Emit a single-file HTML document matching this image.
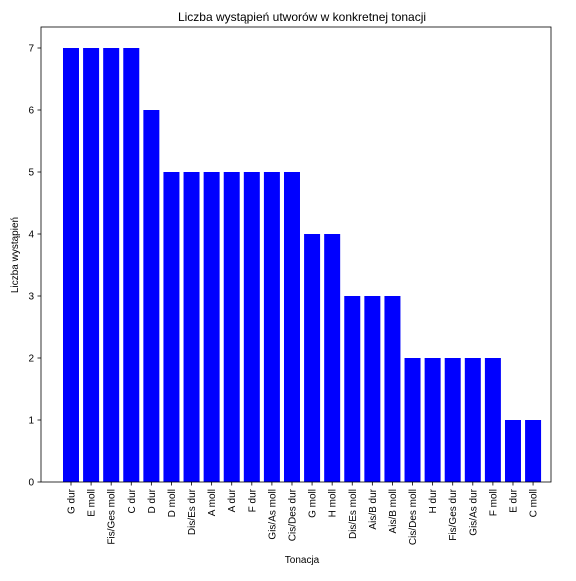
<!DOCTYPE html>
<html><head><meta charset="utf-8"><style>
body{margin:0;background:#fff;}
svg text{font-family:"Liberation Sans","DejaVu Sans",sans-serif;fill:#000;}
</style></head><body>
<svg id="chart" width="576" height="576" xmlns="http://www.w3.org/2000/svg">
<rect width="576" height="576" fill="#fff"/>
<text x="302" y="21" font-size="12" text-anchor="middle">Liczba wystąpień utworów w konkretnej tonacji</text>
<text x="302" y="563" font-size="10" text-anchor="middle">Tonacja</text>
<text transform="translate(18,255) rotate(-90)" font-size="10" text-anchor="middle">Liczba wystąpień</text>
<g id="bars"></g><g id="xt"></g><g id="yt"></g>
<rect x="41" y="27" width="510" height="455" fill="none" stroke="#000" stroke-width="0.8"/>
</svg>
<script>
const categories=["G dur","E moll","Fis/Ges moll","C dur","D dur","D moll","Dis/Es dur","A moll","A dur","F dur","Gis/As moll","Cis/Des dur","G moll","H moll","Dis/Es moll","Ais/B dur","Ais/B moll","Cis/Des moll","H dur","Fis/Ges dur","Gis/As dur","F moll","E dur","C moll"];
const values=[7,7,7,7,6,5,5,5,5,5,5,5,4,4,3,3,3,2,2,2,2,2,1,1];
const yTicks=[0,1,2,3,4,5,6,7];
const NS="http://www.w3.org/2000/svg";
function xs(i){return 71+i*20.09;}
function ys(v){return 482-v*62;}
function mk(t,a,p){const e=document.createElementNS(NS,t);for(const k in a)e.setAttribute(k,a[k]);p.appendChild(e);return e;}
const bars=document.getElementById('bars'),xt=document.getElementById('xt'),yt=document.getElementById('yt');
values.forEach((v,i)=>{
 const r=mk('rect',{x:xs(i)-8,y:ys(v),width:16,height:ys(0)-ys(v),fill:'#0000ff'},bars);
 
 
});
categories.forEach((c,i)=>{
 mk('line',{x1:xs(i),x2:xs(i),y1:482,y2:485.5,stroke:'#000','stroke-width':0.8},xt);
 const t=mk('text',{transform:`translate(${xs(i)+3.5},489) rotate(-90)`,'font-size':10,'text-anchor':'end'},xt);
 t.textContent=c;
 
 
});
yTicks.forEach(v=>{
 mk('line',{x1:37.5,x2:41,y1:ys(v),y2:ys(v),stroke:'#000','stroke-width':0.8},yt);
 const t=mk('text',{x:34,y:ys(v)+3.5,'font-size':10,'text-anchor':'end'},yt);
 t.textContent=v;
 
 
});
</script>
</body></html>
